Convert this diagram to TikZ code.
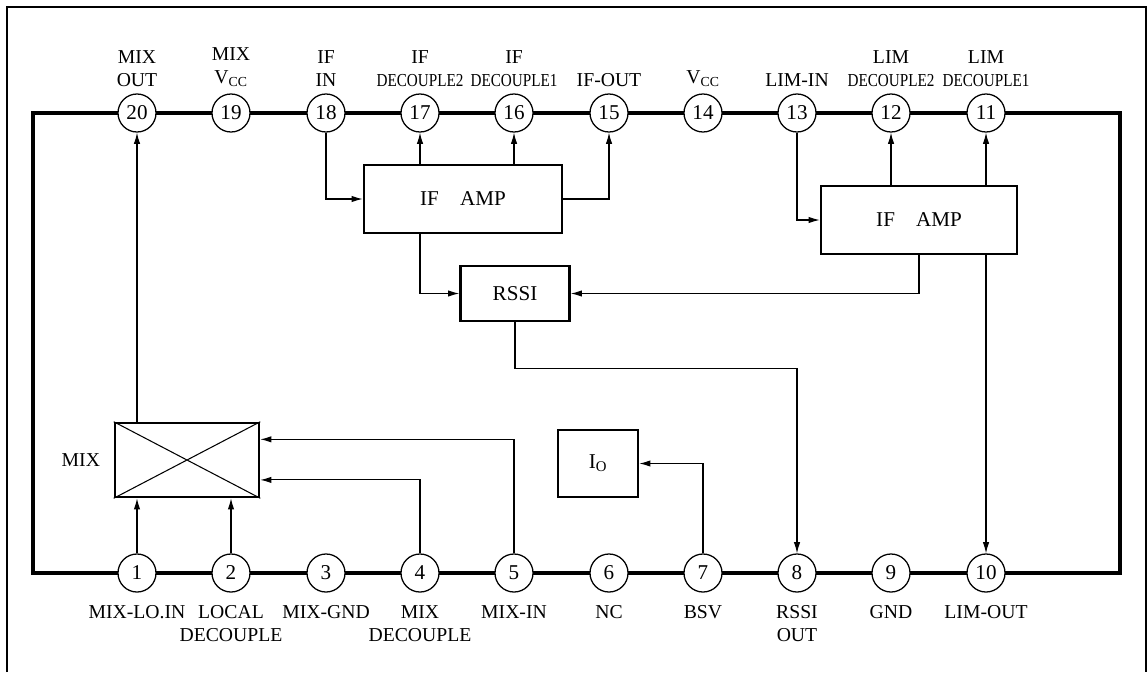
\documentclass[tikz,border=0pt]{standalone}
\usepackage{fontspec}
\usepackage{graphicx}
\setmainfont{Liberation Serif}
\usetikzlibrary{arrows.meta, positioning, calc}

\newcommand{\smalldec}[1]{\scalebox{0.83}[1]{\fontsize{13}{14}\selectfont #1}}

\begin{document}
\begin{tikzpicture}[
        x=0.025cm, y=-0.025cm,
        >={Latex[length=2.8mm,width=1.6mm]},
        line width=0.75pt,
        font=\fontsize{14}{16.4}\selectfont,
        pad/.style={
            circle,
            draw,
            fill=white,
            line width=0.9pt,
            minimum size=0.95cm,
            inner sep=0pt,
            font=\fontsize{15}{16}\selectfont
        },
        block/.style={
            draw,
            fill=white,
            line width=1.8pt,
            inner sep=0pt,
            font=\fontsize{15}{17}\selectfont
        },
        lbl/.style={align=center, inner sep=0pt}
    ]

        \useasboundingbox (0,0) rectangle (1148,672);

        % outer frame and package outline
        \draw[line width=0.8pt] (7,672) -- (7,7) -- (1146,7) -- (1146,672);
        \draw[line width=2.8pt] (33,113) rectangle (1120,573);

        % top pins
        \node[pad] (p20) at (137, 113) {20};
        \node[pad] (p19) at (231, 113) {19};
        \node[pad] (p18) at (326, 113) {18};
        \node[pad] (p17) at (420, 113) {17};
        \node[pad] (p16) at (514, 113) {16};
        \node[pad] (p15) at (609, 113) {15};
        \node[pad] (p14) at (703, 113) {14};
        \node[pad] (p13) at (797, 113) {13};
        \node[pad] (p12) at (891, 113) {12};
        \node[pad] (p11) at (986, 113) {11};

        % bottom pins
        \node[pad] (p1)  at (137, 573) {1};
        \node[pad] (p2)  at (231, 573) {2};
        \node[pad] (p3)  at (326, 573) {3};
        \node[pad] (p4)  at (420, 573) {4};
        \node[pad] (p5)  at (514, 573) {5};
        \node[pad] (p6)  at (609, 573) {6};
        \node[pad] (p7)  at (703, 573) {7};
        \node[pad] (p8)  at (797, 573) {8};
        \node[pad] (p9)  at (891, 573) {9};
        \node[pad] (p10) at (986, 573) {10};

        % pin names
        \node[lbl, above=0.15cm of p20] (l20) {MIX\\OUT};
        \node[lbl, above=0.15cm of p19] (l19) {MIX\\V\textsubscript{CC}};
        \node[lbl, above=0.15cm of p18] (l18) {IF\\IN};
        \node[lbl, above=0.15cm of p17] (l17) {IF\\\smalldec{DECOUPLE2}};
        \node[lbl, above=0.15cm of p16] (l16) {IF\\\smalldec{DECOUPLE1}};
        \node[lbl, above=0.15cm of p15] (l15) {IF-OUT};
        \node[lbl, above=0.15cm of p14] (l14) {V\textsubscript{CC}};
        \node[lbl, above=0.15cm of p13] (l13) {LIM-IN};
        \node[lbl, above=0.15cm of p12] (l12) {LIM\\\smalldec{DECOUPLE2}};
        \node[lbl, above=0.15cm of p11] (l11) {LIM\\\smalldec{DECOUPLE1}};

        \node[lbl, below=0.3cm of p1]  (l1)  {MIX-LO.IN};
        \node[lbl, below=0.3cm of p2]  (l2)  {LOCAL\\DECOUPLE};
        \node[lbl, below=0.3cm of p3]  (l3)  {MIX-GND};
        \node[lbl, below=0.3cm of p4]  (l4)  {MIX\\DECOUPLE};
        \node[lbl, below=0.3cm of p5]  (l5)  {MIX-IN};
        \node[lbl, below=0.3cm of p6]  (l6)  {NC};
        \node[lbl, below=0.3cm of p7]  (l7)  {BSV};
        \node[lbl, below=0.3cm of p8]  (l8)  {RSSI\\OUT};
        \node[lbl, below=0.3cm of p9]  (l9)  {GND};
        \node[lbl, below=0.3cm of p10] (l10) {LIM-OUT};

        % blocks
        \node[block, minimum width=4.95cm, minimum height=1.7cm] (ifa) at (463, 199) {IF\quad AMP};
        \node[block, minimum width=4.9cm, minimum height=1.7cm] (ifb) at (919, 220) {IF\quad AMP};
        \node[block, minimum width=2.725cm, minimum height=1.375cm] (rssi) at (515, 293.5) {RSSI};
        \node[block, minimum width=2cm, minimum height=1.675cm] (io) at (598, 463.5) {I\textsubscript{O}};
        \node[block, minimum width=3.6cm, minimum height=1.85cm] (mix) at (187, 460) {};
        \draw (mix.north west) -- (mix.south east) (mix.south west) -- (mix.north east);
        \node[left=0.33cm of mix, inner sep=0pt] (mixlbl) {MIX};

        % signal paths
        \draw[->] (mix.north -| p20) -- (p20.south);
        \draw[->] (p1.north) -- (p1.north |- mix.south);
        \draw[->] (p2.north) -- (p2.north |- mix.south);
        \draw[->] (p4.north) |- ($(mix.north east)!0.76!(mix.south east)$);
        \draw[->] (p5.north) |- ($(mix.north east)!0.23!(mix.south east)$);

        \draw[->] (p18.south) |- (ifa.west);
        \draw[->] (ifa.north -| p17) -- (p17.south);
        \draw[->] (ifa.north -| p16) -- (p16.south);
        \draw[->] (ifa.east) -| (p15.south);
        \draw[->] (ifa.south -| p17) |- (rssi.west);

        \draw[->] (p13.south) |- (ifb.west);
        \draw[->] (ifb.north -| p12) -- (p12.south);
        \draw[->] (ifb.north -| p11) -- (p11.south);
        \draw[->] (ifb.south) |- (rssi.east);
        \draw[->] (ifb.south -| p10) -- (p10.north);

        \draw[->] (rssi.south) -- ++(0,46) -| (p8.north);
        \draw[->] (p7.north) |- (io.east);

    \end{tikzpicture}
\end{document}
